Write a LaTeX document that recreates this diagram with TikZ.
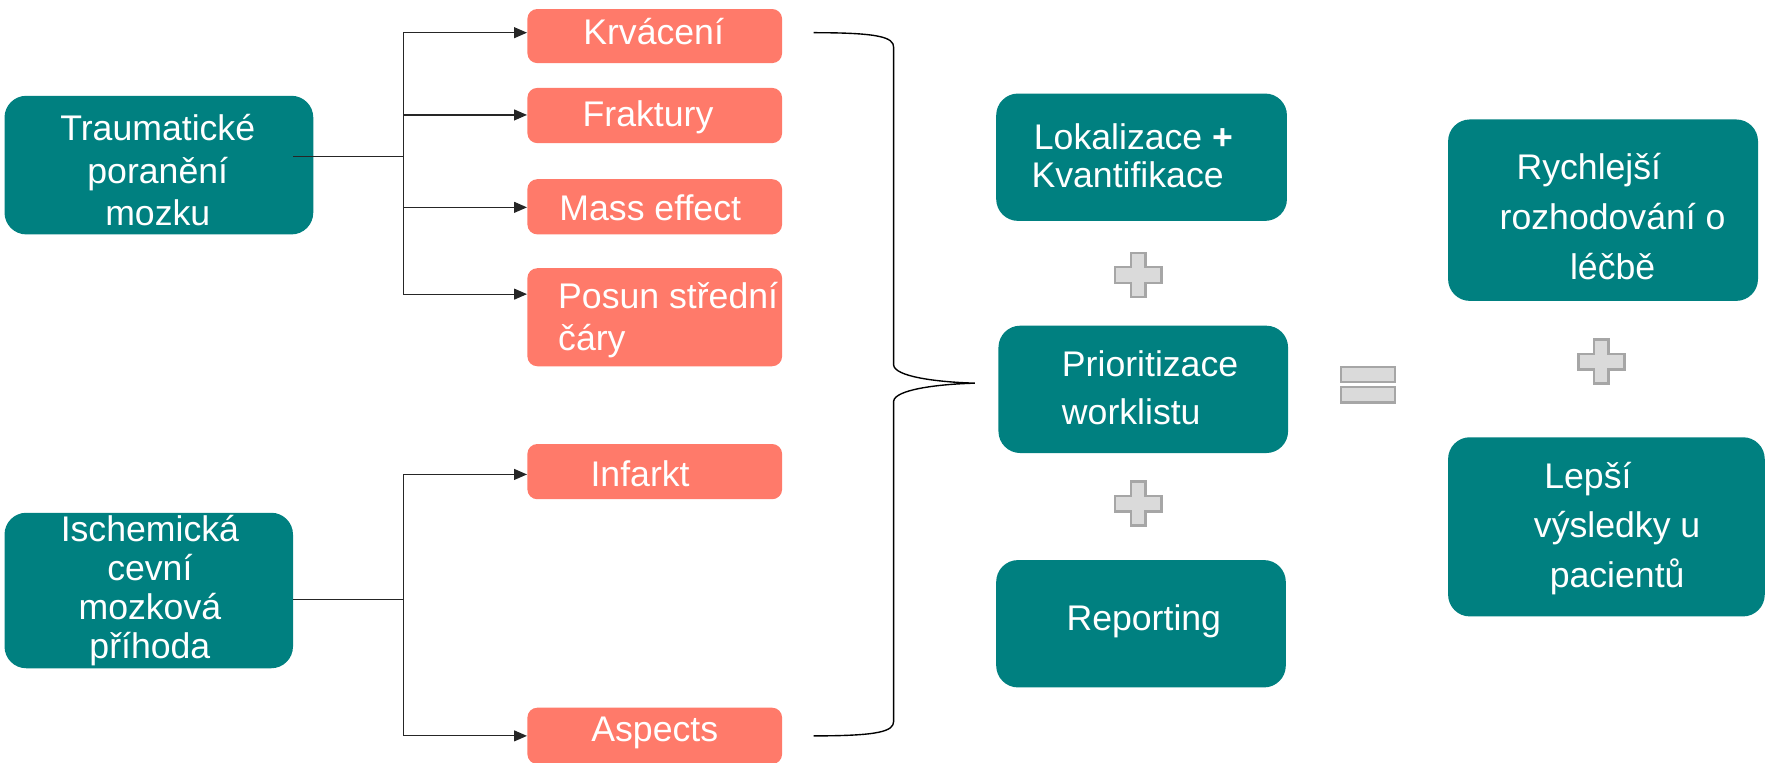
\documentclass[tikz,border=0pt]{standalone}
\usepackage{fontspec}
\setmainfont{Liberation Sans}
\usetikzlibrary{arrows.meta}
\definecolor{tealbox}{RGB}{0,128,128}
\definecolor{salmon}{RGB}{255,122,106}
\definecolor{plusfill}{RGB}{218,218,218}
\definecolor{plusline}{RGB}{166,166,166}
\tikzset{
  tealbox/.style={draw=none, fill=tealbox, rounded corners=11pt, inner sep=0pt},
  salbox/.style={draw=none, fill=salmon, rounded corners=5pt, inner sep=0pt},
  txt/.style={text=white, font=\fontsize{18}{21.5}\selectfont, inner sep=0pt},
  arr/.style={-{Triangle[length=6.5pt,width=5.5pt]}, line width=0.6pt, black!85},
  conn/.style={line width=0.6pt, black!85},
  brace/.style={line width=0.7pt, black},
  sign/.style={fill=plusfill, draw=plusline, line width=1.3pt}
}
\begin{document}
\begin{tikzpicture}[x=0.02cm,y=-0.02cm]
\useasboundingbox (0,0) rectangle (1568,677);
% left teal boxes
\path[tealbox] (4,85) rectangle (278,208);
\node[inner sep=0pt, minimum width=274*0.02cm, minimum height=123*0.02cm] (tbi) at (141,146.5) {};
\path[tealbox] (4,455) rectangle (260,593);
\node[inner sep=0pt, minimum width=256*0.02cm, minimum height=138*0.02cm] (ich) at (132,524) {};
\node[txt, align=center] (tbit) at (140,151) {Traumatické\\poranění\\mozku};
\node[txt, align=center, font=\fontsize{18}{19.6}\selectfont] (icht) at (133,524) {Ischemická\\cevní\\mozková\\příhoda};
% salmon boxes
\foreach \n/\ya/\yb in {kr/8/56, fr/78/127, me/159/208, po/238/325, inf/394/443, asp/628/678}{
  \path[salbox] (468,\ya) rectangle (694,\yb);
  \node[inner sep=0pt, minimum width=226*0.02cm, minimum height={(\yb-\ya)*0.02cm}] (\n) at (581,{(\ya+\yb)/2}) {};
}
\node[txt] (krt) at (580,28) {Krvácení};
\node[txt] (frt) at (575,104) {Fraktury};
\node[txt] (met) at (577,184) {Mass effect};
\node[txt, align=left, anchor=west] (pot) at (495,284) {Posun střední\\čáry};
\node[txt] (inft) at (568,420) {Infarkt};
\node[txt] (aspt) at (581,650) {Aspects};
% connectors upper
\coordinate (j1) at (358,139);
\coordinate (b1) at (358,29);
\coordinate (b2) at (358,102);
\coordinate (b3) at (358,184);
\coordinate (b4) at (358,261);
\draw[conn] ([xshift=-18*0.02cm]tbi.east |- j1) -- (j1);
\draw[conn] (b1) -- (b4);
\draw[arr] (b1) -- (b1 -| kr.west);
\draw[arr] (b2) -- (b2 -| fr.west);
\draw[arr] (b3) -- (b3 -| me.west);
\draw[arr] (b4) -- (b4 -| po.west);
% connectors lower
\coordinate (j2) at (358,532);
\coordinate (c1) at (358,421);
\coordinate (c2) at (358,653);
\draw[conn] (ich.east |- j2) -- (j2);
\draw[conn] (c1) -- (c2);
\draw[arr] (c1) -- (c1 -| inf.west);
\draw[arr] (c2) -- (c2 -| asp.west);
% brace
\coordinate (bt) at (722,29);
\coordinate (bb) at (722,653);
\coordinate (tip) at (865,340);
\draw[brace] (bt) .. controls (780,29) and (793,33) .. (793,42)
  -- (793,324) .. controls (794,334) and (830,339) .. (tip)
  .. controls (830,341) and (794,346) .. (793,356)
  -- (793,640) .. controls (793,649) and (780,653) .. (bb);
% middle teal boxes
\path[tealbox] (884,83) rectangle (1142,196);
\node[inner sep=0pt, minimum width=258*0.02cm, minimum height=113*0.02cm] (lok) at (1013,139.5) {};
\path[tealbox] (886,289) rectangle (1143,402);
\node[inner sep=0pt, minimum width=257*0.02cm, minimum height=113*0.02cm] (pri) at (1014.5,345.5) {};
\path[tealbox] (884,497) rectangle (1141,610);
\node[inner sep=0pt, minimum width=257*0.02cm, minimum height=113*0.02cm] (rep) at (1012.5,553.5) {};
\node[txt, align=left, anchor=west, font=\fontsize{18}{19.3}\selectfont] (lokt) at (915,138) {\hspace*{1.2pt}Lokalizace \textbf{+}\\Kvantifikace};
\node[txt, align=left, anchor=west, font=\fontsize{18}{24.4}\selectfont] (prit) at (942,344) {Prioritizace\\worklistu};
\node[txt] (rept) at (1015,551) {Reporting};
% right teal boxes
\path[tealbox] (1285,106) rectangle (1560,267);
\node[inner sep=0pt, minimum width=275*0.02cm, minimum height=161*0.02cm] (ry) at (1422.5,186.5) {};
\path[tealbox] (1285,388) rectangle (1566,547);
\node[inner sep=0pt, minimum width=281*0.02cm, minimum height=159*0.02cm] (le) at (1425.5,467.5) {};
\node[txt, align=center, font=\fontsize{18}{25.2}\selectfont] (ryt) at (1431,192) {Rychlejší\hspace*{24pt}\\rozhodování o\\léčbě};
\node[txt, align=center, font=\fontsize{18}{25}\selectfont] (let) at (1435,469) {Lepší\hspace*{29.5pt}\\výsledky u\\pacientů};
% plus signs
\foreach \cx/\cy in {1010/244, 1010/447, 1421/321}{
  \draw[sign] (\cx-6.5,\cy-19.5) -- (\cx+6.5,\cy-19.5) -- (\cx+6.5,\cy-7) -- (\cx+20.5,\cy-7)
    -- (\cx+20.5,\cy+7) -- (\cx+6.5,\cy+7) -- (\cx+6.5,\cy+19.5) -- (\cx-6.5,\cy+19.5)
    -- (\cx-6.5,\cy+7) -- (\cx-20.5,\cy+7) -- (\cx-20.5,\cy-7) -- (\cx-6.5,\cy-7) -- cycle;
}
% equals sign
\draw[sign] (1190,325.5) rectangle (1238,339);
\draw[sign] (1190,343.5) rectangle (1238,357);
\end{tikzpicture}
\end{document}
